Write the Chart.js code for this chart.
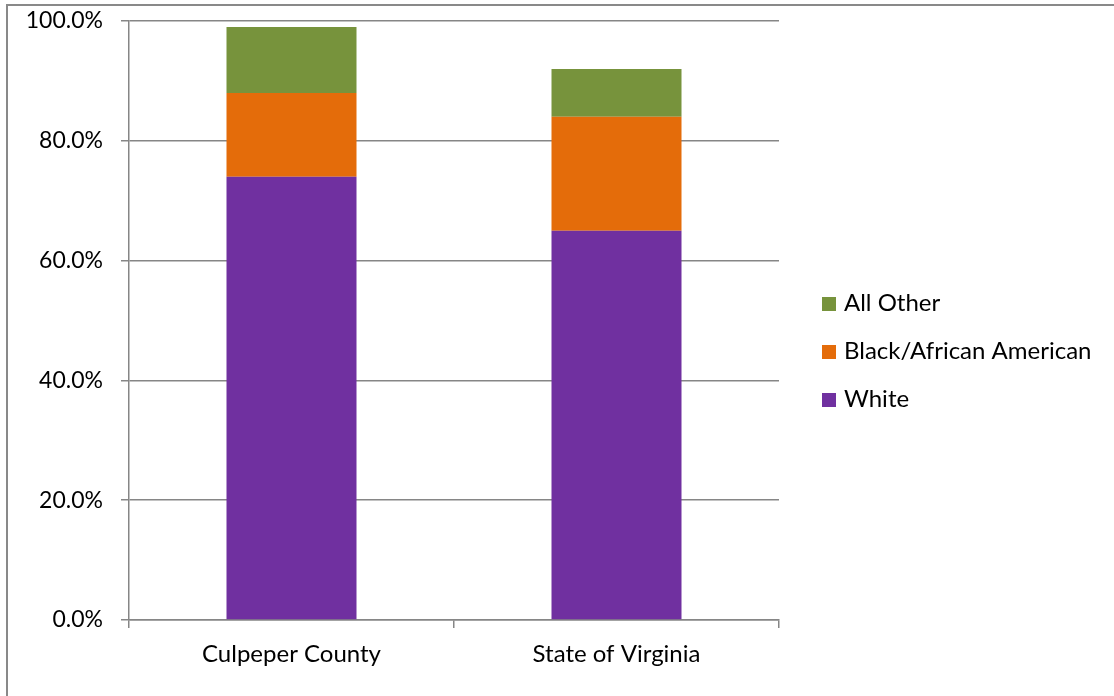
<!DOCTYPE html>
<html>
<head>
<meta charset="utf-8">
<title>Race composition</title>
<script src="https://cdn.jsdelivr.net/npm/chart.js@4.4.1/dist/chart.umd.min.js"></script>
<style>
  html, body { margin:0; padding:0; background:#fff; overflow:hidden; }
  #wrap { position:absolute; left:0; top:0; width:1114px; height:696px; }
  #frame { position:absolute; left:6px; top:4px; width:1200px; height:800px; border:2px solid #898989; pointer-events:none; }
</style>
</head>
<body>
<div id="wrap"><canvas id="chart"></canvas></div>
<div id="frame"></div>
<script>
// data
const categories = ['Culpeper County', 'State of Virginia'];
const white = [74, 65];
const black = [14, 19];
const allOther = [11, 8];
const seriesNames = ['White', 'Black/African American', 'All Other'];
const seriesColors = ['#7030A0', '#E46C0A', '#77933C'];
const yTicks = [0, 20, 40, 60, 80, 100];

const FONT = 'Lato, "Open Sans", sans-serif';

// legend drawn by hand so it sits like the Excel one (reversed order, right of plot)
const sideLegend = {
  id: 'sideLegend',
  afterDraw(chart){
    const ctx = chart.ctx;
    const area = chart.chartArea;
    const sets = chart.data.datasets.slice().reverse();
    const gap = 48;
    const cy = (area.top + area.bottom) / 2 + 31;
    const x0 = area.right + 43;
    ctx.save();
    ctx.font = '24px ' + FONT;
    ctx.textBaseline = 'middle';
    ctx.textAlign = 'left';
    sets.forEach((ds, i) => {
      const y = cy + (i - (sets.length - 1) / 2) * gap;
      ctx.fillStyle = ds.backgroundColor;
      ctx.fillRect(x0, y - 6.5, 14, 14);
      ctx.fillStyle = '#000';
      ctx.fillText(ds.label, x0 + 22, y);
    });
    ctx.restore();
  }
};

const ctx = document.getElementById('chart').getContext('2d');
new Chart(ctx, {
  type: 'bar',
  data: {
    labels: categories,
    datasets: [
      { label: seriesNames[0], data: white, backgroundColor: seriesColors[0] },
      { label: seriesNames[1], data: black, backgroundColor: seriesColors[1] },
      { label: seriesNames[2], data: allOther, backgroundColor: seriesColors[2] }
    ]
  },
  options: {
    responsive: true,
    maintainAspectRatio: false,
    animation: false,
    layout: { padding: { left: 0, right: 335, top: 21, bottom: 0 } },
    plugins: { legend: { display: false }, tooltip: { enabled: false } },
    datasets: { bar: { barPercentage: 0.4, categoryPercentage: 1.0 } },
    scales: {
      x: {
        stacked: true,
        grid: { display: true, drawOnChartArea: false, drawTicks: true, tickLength: 8, color: '#868686', lineWidth: 1.5, offset: true },
        border: { display: true, color: '#868686', width: 1.5 },
        ticks: { color: '#000', font: { family: FONT, size: 24 }, padding: 12 },
        afterFit(s){ s.height = 76; }
      },
      y: {
        stacked: true,
        min: 0,
        max: 100,
        afterBuildTicks(s){ s.ticks = yTicks.map(v => ({ value: v })); },
        grid: { color: '#868686', lineWidth: 1.5, drawTicks: true, tickLength: 8 },
        border: { display: true, color: '#868686', width: 1.5 },
        ticks: {
          color: '#000',
          font: { family: FONT, size: 23 },
          padding: 18,
          callback: v => v.toFixed(1) + '%'
        },
        afterFit(s){ s.width = 129; s.paddingTop = 0; s.paddingBottom = 0; }
      }
    }
  },
  plugins: [sideLegend]
});
</script>
</body>
</html>
